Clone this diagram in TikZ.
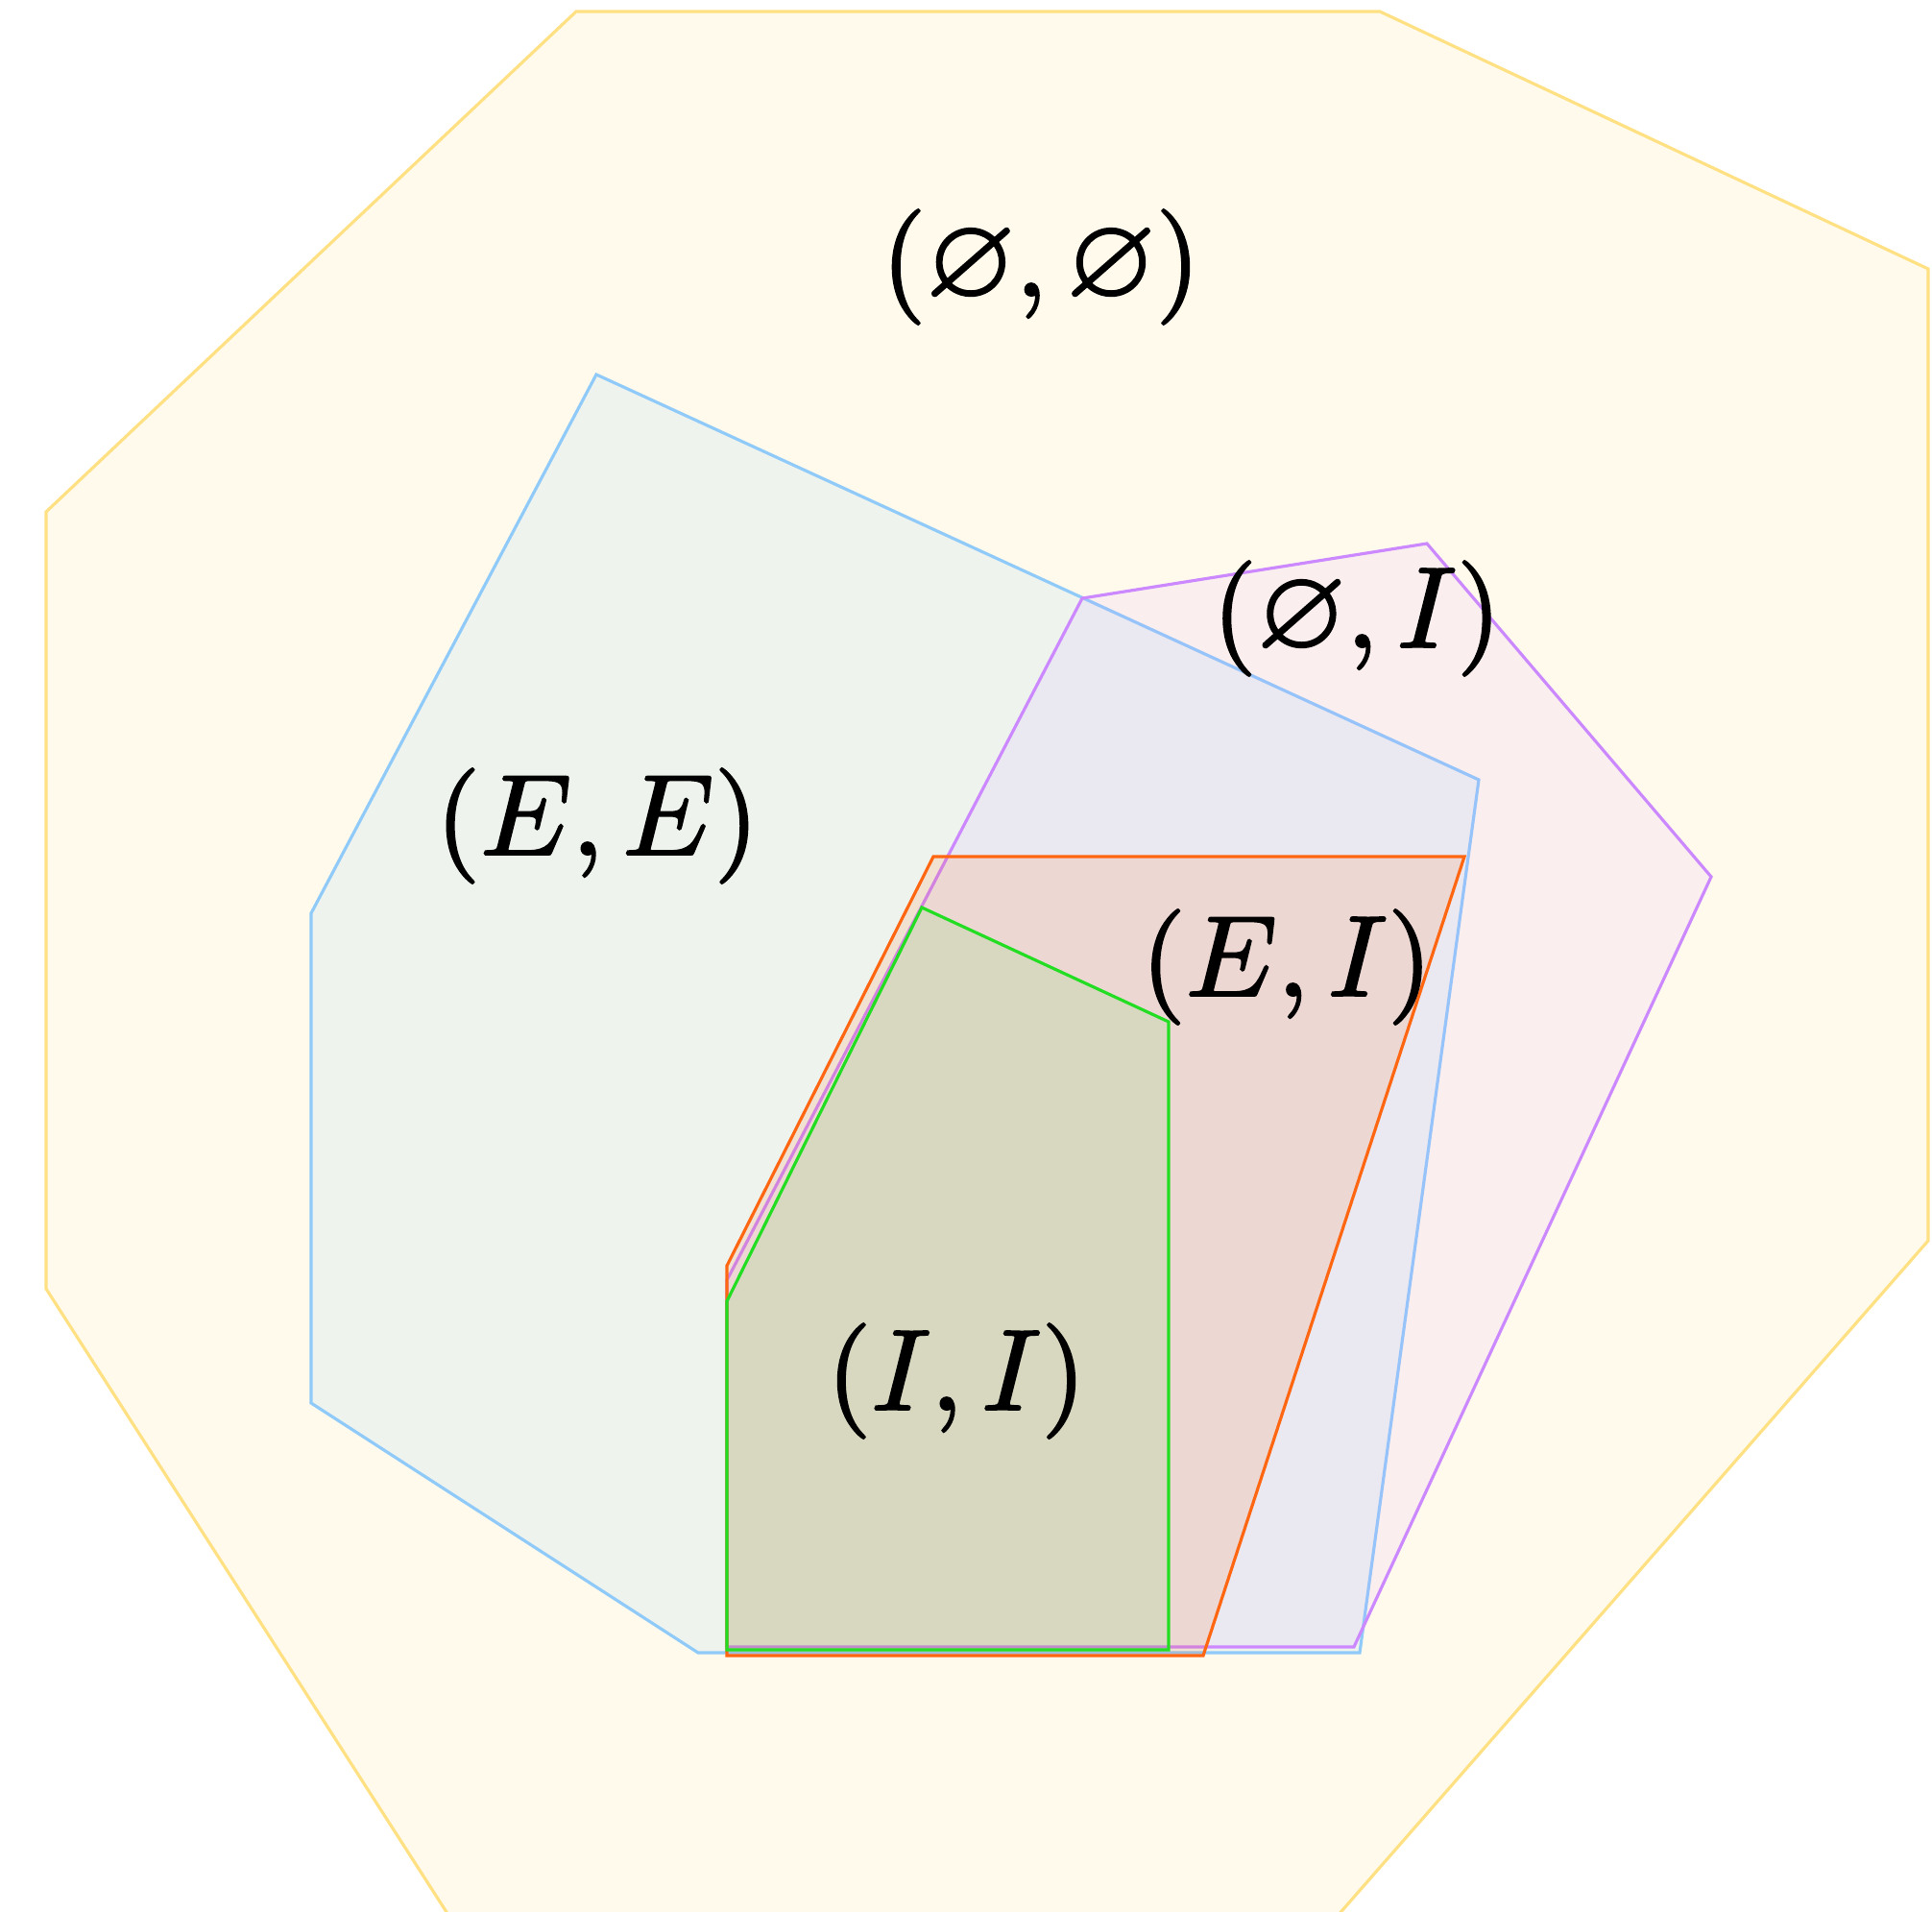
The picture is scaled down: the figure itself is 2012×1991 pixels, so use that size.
\documentclass[tikz,border=0pt]{standalone}
\usepackage{amssymb}
\definecolor{yel}{HTML}{FFE082}
\definecolor{blu}{HTML}{90CAF9}
\definecolor{pur}{HTML}{CC88FF}
\definecolor{org}{HTML}{FF6611}
\definecolor{grn}{HTML}{22DD22}
\newcommand{\heavytext}[1]{\special{pdf:literal direct 0 G 0.18 w 0 j 0 J 2 Tr}#1\special{pdf:literal direct 0 Tr}}
\tikzset{
  region/.style 2 args={draw=#1, fill=#1, fill opacity=#2, line width=0.9pt, line join=miter},
  lab/.style={scale=3.4, transform shape, inner sep=0pt}
}
\begin{document}
\begin{tikzpicture}[x=0.01cm, y=-0.01cm]
\useasboundingbox (0,0) rectangle (2012,1991);
\begin{scope}
\clip (0,0) rectangle (2012,1991);
\draw[region={yel}{0.15}] (600,12) -- (1437,12) -- (2008,280) -- (2008,1292) -- (1301,2100) -- (535,2100) -- (48,1342) -- (48,533) -- cycle;
\end{scope}
\draw[region={blu}{0.15}] (621,390) -- (1540,812) -- (1416,1721) -- (727,1721) -- (324,1461) -- (324,951) -- cycle;
\draw[region={pur}{0.10}] (1127,623) -- (1486,566) -- (1782,913) -- (1410,1715) -- (757,1715) -- (757,1333) -- cycle;
\draw[region={org}{0.13}] (972,892) -- (1525,892) -- (1253,1724) -- (757,1724) -- (757,1318) -- cycle;
\draw[region={grn}{0.10}] (960,945) -- (1217,1064) -- (1217,1718) -- (757,1718) -- (757,1355) -- cycle;
\node[lab] (nn) at (1084,278) {\heavytext{$(\varnothing,\varnothing)$}};
\node[lab] (ni) at (1413,644) {\heavytext{$(\varnothing,I)$}};
\node[lab] (ee) at (622,860) {\heavytext{$(E,E)$}};
\node[lab] (ei) at (1340,1007) {\heavytext{$(E,I)$}};
\node[lab] (ii) at (996,1438) {\heavytext{$(I,I)$}};
\end{tikzpicture}
\end{document}
